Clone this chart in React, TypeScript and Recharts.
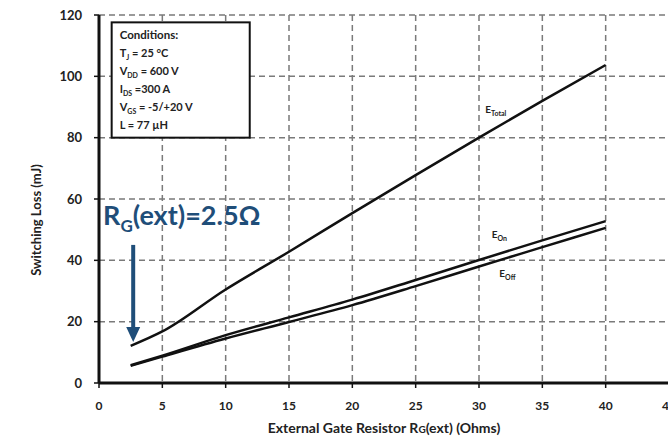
import React from 'react'
import {
  LineChart, Line, XAxis, YAxis, CartesianGrid,
  ReferenceArea, ReferenceDot,
} from 'recharts'

// external gate resistor (Ohms)
const rgExt = [2.5, 5, 10, 15, 20, 25, 30, 35, 40]
// switching losses (mJ)
const eTotal = [12.1, 16.8, 30.5, 42.8, 55.4, 67.8, 80, 92, 103.7]
const eOn = [5.8, 8.9, 15.6, 21.4, 27.2, 33.6, 40.1, 46.5, 52.8]
const eOff = [5.6, 8.6, 14.5, 19.9, 25.4, 31.6, 38, 44.3, 50.6]

const xTicks = [0, 5, 10, 15, 20, 25, 30, 35, 40, 45]
const yTicks = [0, 20, 40, 60, 80, 100, 120]

const conditions = [
  { main: 'T', sub: 'J', rest: ' = 25 °C' },
  { main: 'V', sub: 'DD', rest: ' = 600 V' },
  { main: 'I', sub: 'DS', rest: ' =300 A' },
  { main: 'V', sub: 'GS', rest: ' = -5/+20 V' },
  { main: 'L', sub: '', rest: ' = 77 µH' },
]

const data = rgExt.map((x, i) => ({ x, eTotal: eTotal[i], eOn: eOn[i], eOff: eOff[i] }))

const FONT = 'Lato, "Open Sans", sans-serif'
const TEXT = '#222'
const BLUE = '#1F4E79'

function ConditionsBox(props: any) {
  const { x, y, width, height } = props
  return (
    <g>
      <rect x={x} y={y} width={width} height={height} fill="#fff" stroke="#111" strokeWidth={2} />
      <text x={x + 8} y={y + 17} fontFamily={FONT} fontWeight={700} fontSize={11.5} fill={TEXT}>Conditions:</text>
      {conditions.map((c, i) => (
        <text key={i} x={x + 8} y={y + 35 + i * 17.8} fontFamily={FONT} fontWeight={700} fontSize={11} fill={TEXT}>
          {c.main}
          {c.sub && <tspan fontSize={7} dy={3}>{c.sub}</tspan>}
          <tspan dy={c.sub ? -3 : 0}>{c.rest}</tspan>
        </text>
      ))}
    </g>
  )
}

function SeriesLabel({ cx, cy, sub }: any) {
  return (
    <text x={cx} y={cy} fontFamily={FONT} fontWeight={700} fontSize={10} fill={TEXT}>
      E<tspan fontSize={7} dy={3}>{sub}</tspan>
    </text>
  )
}

function RgNote({ cx, cy }: any) {
  return (
    <text x={cx} y={cy} fontFamily={FONT} fontWeight={700} fontSize={27} fill={BLUE}>
      R<tspan fontSize={17} dy={7}>G</tspan><tspan dy={-7}>(ext)=2.5Ω</tspan>
    </text>
  )
}

function Arrow({ cx, cy }: any) {
  return (
    <g>
      <line x1={cx} y1={cy - 97} x2={cx} y2={cy - 13} stroke={BLUE} strokeWidth={4} />
      <polygon points={`${cx - 7},${cy - 15} ${cx + 7},${cy - 15} ${cx},${cy}`} fill={BLUE} />
    </g>
  )
}

export default function App() {
  return (
    <div style={{ position: 'fixed', left: 0, top: 0, width: 668, height: 437, overflow: 'hidden', background: '#fff' }}>
      <LineChart width={700} height={437} data={data} margin={{ top: 15, right: 31, left: 0, bottom: 0 }}>
        <CartesianGrid stroke="#7a7a7a" strokeWidth={1.5} strokeDasharray="6 4" />
        <XAxis
          dataKey="x"
          type="number"
          domain={[0, 45]}
          ticks={xTicks}
          allowDataOverflow
          height={54}
          axisLine={{ stroke: '#111', strokeWidth: 3 }}
          tickLine={{ stroke: '#111', strokeWidth: 1.5 }}
          tickSize={5}
          tickMargin={13}
          tick={{ fill: TEXT, fontSize: 12, fontWeight: 700, fontFamily: FONT }}
          label={{
            content: ({ viewBox }: any) => (
              <text x={viewBox.x + viewBox.width / 2} y={433} textAnchor="middle" fontFamily={FONT} fontWeight={700} fontSize={14} fill={TEXT}>
                External Gate Resistor R<tspan fontSize={10}>G</tspan>(ext) (Ohms)
              </text>
            ),
          }}
        />
        <YAxis
          type="number"
          domain={[0, 120]}
          ticks={yTicks}
          width={99}
          axisLine={{ stroke: '#111', strokeWidth: 3 }}
          tickLine={{ stroke: '#111', strokeWidth: 1.5 }}
          tickSize={5}
          tickMargin={12}
          tick={{ fill: TEXT, fontSize: 13, fontWeight: 700, fontFamily: FONT }}
          label={{
            content: () => (
              <text x={41} y={220} transform="rotate(-90 41 220)" textAnchor="middle" fontFamily={FONT} fontWeight={700} fontSize={13} fill={TEXT}>
                Switching Loss (mJ)
              </text>
            ),
          }}
        />
        <ReferenceArea x1={1} x2={11.9} y1={80} y2={117.6} shape={<ConditionsBox />} />
        <ReferenceDot x={0.32} y={51.5} r={0} shape={(p: any) => <RgNote {...p} />} />
        <ReferenceDot x={2.7} y={13.4} r={0} shape={(p: any) => <Arrow {...p} />} />
        <Line type="monotone" dataKey="eTotal" stroke="#111" strokeWidth={2.5} dot={false} isAnimationActive={false} />
        <Line type="monotone" dataKey="eOn" stroke="#111" strokeWidth={2.5} dot={false} isAnimationActive={false} />
        <Line type="monotone" dataKey="eOff" stroke="#111" strokeWidth={2.5} dot={false} isAnimationActive={false} />
        <ReferenceDot x={30.5} y={88} r={0} shape={(p: any) => <SeriesLabel {...p} sub="Total" />} />
        <ReferenceDot x={31} y={47.3} r={0} shape={(p: any) => <SeriesLabel {...p} sub="On" />} />
        <ReferenceDot x={31.6} y={34.7} r={0} shape={(p: any) => <SeriesLabel {...p} sub="Off" />} />
      </LineChart>
    </div>
  )
}
